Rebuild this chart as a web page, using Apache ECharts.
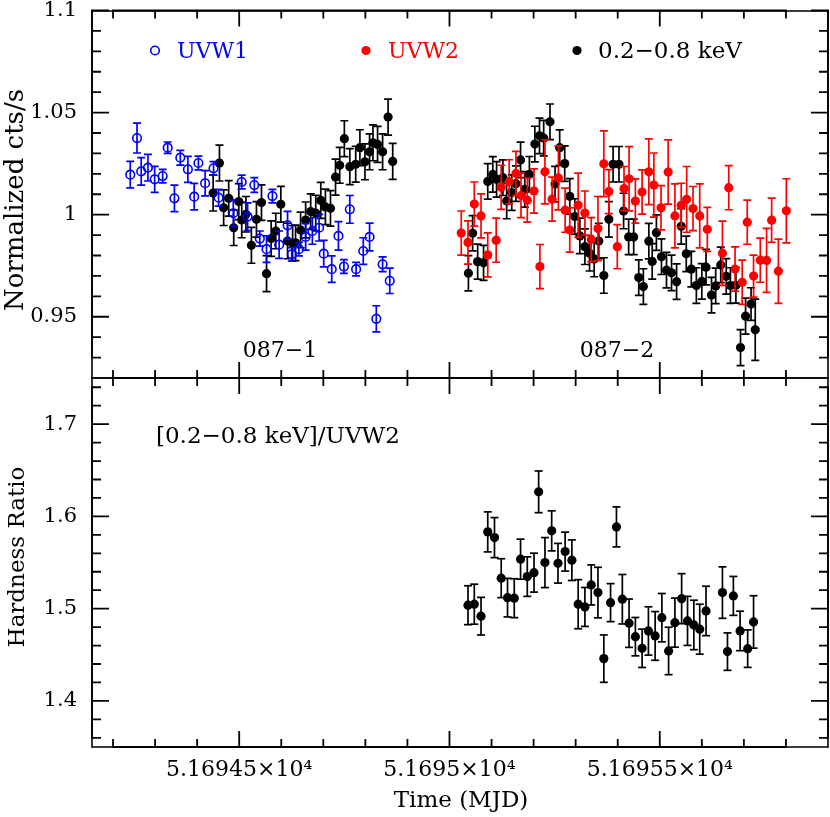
<!DOCTYPE html>
<html><head><meta charset="utf-8">
<script src="https://cdn.jsdelivr.net/npm/echarts@6/dist/echarts.min.js"></script>
<style>html,body{margin:0;padding:0;background:#fff}#c{width:830px;height:817px}</style>
</head><body><div id="c"></div>
<script>
// ---- axes / ticks ----
const XMIN = 51694.15, XMAX = 51695.9;
const X_MAJOR = [51694.5, 51695.0, 51695.5];
const X_MAJOR_LABELS = ['5.16945×10⁴', '5.1695×10⁴', '5.16955×10⁴'];
const X_MINOR = [51694.2,51694.3,51694.4,51694.6,51694.7,51694.8,51694.9,51695.1,51695.2,51695.3,51695.4,51695.6,51695.7,51695.8];
const TOP_YMIN = 0.92, TOP_YMAX = 1.1;
const TOP_Y_MAJOR = [0.95, 1.0, 1.05, 1.1];
const TOP_Y_LABELS = ['0.95', '1', '1.05', '1.1'];
const TOP_Y_MINOR = [0.93,0.94,0.96,0.97,0.98,0.99,1.01,1.02,1.03,1.04,1.06,1.07,1.08,1.09];
const BOT_YMIN = 1.35, BOT_YMAX = 1.75;
const BOT_Y_MAJOR = [1.4, 1.5, 1.6, 1.7];
const BOT_Y_LABELS = ['1.4', '1.5', '1.6', '1.7'];
const BOT_Y_MINOR = [1.36,1.38,1.42,1.44,1.46,1.48,1.52,1.54,1.56,1.58,1.62,1.64,1.66,1.68,1.72,1.74];

// ---- data ----
const UVW1_T = [51694.241,51694.257,51694.267,51694.283,51694.299,51694.318,51694.330,51694.346,51694.360,51694.378,51694.393,51694.403,51694.419,51694.439,51694.451,51694.486,51694.506,51694.520,51694.536,51694.549,51694.565,51694.579,51694.595,51694.615,51694.625,51694.642,51694.658,51694.674,51694.690,51694.701,51694.720,51694.736,51694.749,51694.763,51694.778,51694.795,51694.810,51694.826,51694.841,51694.858];
const UVW1_V = [1.0196,1.0375,1.0212,1.0230,1.0173,1.0189,1.0328,1.0080,1.0279,1.0222,1.0088,1.0253,1.0154,1.0227,1.0083,1.0007,1.0160,0.9990,1.0145,0.9883,0.9831,1.0091,0.9853,0.9948,0.9806,0.9831,0.9891,0.9920,0.9936,0.9809,0.9733,0.9896,0.9746,1.0026,0.9733,0.9822,0.9891,0.9490,0.9757,0.9676];
const UVW1_E = [0.0065,0.0073,0.0067,0.0065,0.0064,0.0033,0.0028,0.0065,0.0036,0.0064,0.0065,0.0034,0.0062,0.0033,0.0041,0.0065,0.0034,0.0068,0.0036,0.0037,0.0065,0.0033,0.0067,0.0068,0.0033,0.0033,0.0065,0.0065,0.0065,0.0065,0.0065,0.0070,0.0034,0.0068,0.0033,0.0065,0.0068,0.0064,0.0036,0.0062];

const XR1_T = [51694.438,51694.453,51694.463,51694.475,51694.487,51694.499,51694.506,51694.516,51694.529,51694.541,51694.553,51694.565,51694.576,51694.587,51694.599,51694.615,51694.627,51694.634,51694.646,51694.658,51694.670,51694.682,51694.694,51694.705,51694.717,51694.729,51694.739,51694.750,51694.763,51694.777,51694.787,51694.799,51694.810,51694.818,51694.829,51694.841,51694.854,51694.865];
const XR1_V = [1.0106,1.0253,1.0034,1.0080,0.9936,1.0064,0.9974,1.0002,0.9850,0.9977,1.0059,0.9711,0.9883,0.9920,1.0051,0.9871,0.9860,0.9862,0.9925,0.9974,1.0015,1.0008,1.0070,1.0038,1.0031,1.0184,1.0242,1.0372,1.0235,1.0247,1.0328,1.0259,1.0308,1.0352,1.0344,1.0308,1.0478,1.0261];
const XR1_E = [0.0088,0.0088,0.0087,0.0087,0.0087,0.0088,0.0087,0.0087,0.0088,0.0087,0.0087,0.0088,0.0087,0.0087,0.0088,0.0087,0.0087,0.0087,0.0087,0.0088,0.0087,0.0087,0.0088,0.0087,0.0087,0.0088,0.0088,0.0088,0.0088,0.0088,0.0088,0.0088,0.0088,0.0088,0.0088,0.0088,0.0088,0.0088];

const XR2_T = [51695.045,51695.055,51695.067,51695.081,51695.091,51695.103,51695.112,51695.127,51695.136,51695.148,51695.158,51695.169,51695.179,51695.190,51695.203,51695.214,51695.224,51695.239,51695.251,51695.262,51695.274,51695.286,51695.298,51695.310,51695.322,51695.333,51695.344,51695.355,51695.367,51695.379,51695.389,51695.403,51695.414,51695.426,51695.438,51695.450,51695.461,51695.474,51695.482,51695.492,51695.504,51695.516,51695.528,51695.540,51695.551,51695.563,51695.575,51695.587,51695.600,51695.610,51695.623,51695.633,51695.645,51695.658,51695.668,51695.681,51695.692,51695.704,51695.717,51695.727];
const XR2_V = [0.9713,0.9909,0.9770,0.9764,1.0163,1.0197,1.0173,1.0181,1.0067,1.0108,1.0152,1.0268,1.0124,1.0198,1.0346,1.0386,1.0375,1.0455,1.0150,1.0328,1.0250,1.0090,0.9991,0.9896,0.9843,0.9811,0.9783,0.9871,0.9702,0.9977,1.0247,1.0247,1.0018,0.9891,0.9891,0.9692,0.9648,0.9870,0.9771,0.9912,0.9794,0.9728,0.9715,0.9672,0.9943,0.9808,0.9733,0.9653,0.9673,0.9743,0.9606,0.9651,0.9754,0.9698,0.9653,0.9654,0.9349,0.9503,0.9562,0.9436];
const XR2_E = [0.0086,0.0086,0.0086,0.0086,0.0087,0.0087,0.0087,0.0087,0.0087,0.0087,0.0087,0.0087,0.0087,0.0087,0.0087,0.0087,0.0087,0.0087,0.0087,0.0087,0.0087,0.0087,0.0087,0.0087,0.0087,0.0087,0.0087,0.0087,0.0087,0.0087,0.0087,0.0087,0.0087,0.0087,0.0087,0.0087,0.0087,0.0087,0.0087,0.0087,0.0087,0.0087,0.0087,0.0087,0.0087,0.0087,0.0087,0.0087,0.0087,0.0087,0.0087,0.0087,0.0087,0.0087,0.0087,0.0087,0.0088,0.0088,0.0080,0.0150];

const UVW2_T = [51695.028,51695.044,51695.059,51695.075,51695.091,51695.111,51695.123,51695.142,51695.158,51695.170,51695.185,51695.201,51695.215,51695.227,51695.244,51695.259,51695.275,51695.286,51695.306,51695.322,51695.337,51695.353,51695.367,51695.379,51695.399,51695.415,51695.427,51695.442,51695.458,51695.474,51695.486,51695.503,51695.520,51695.536,51695.551,51695.564,51695.579,51695.595,51695.613,51695.649,51695.664,51695.679,51695.696,51695.708,51695.723,51695.739,51695.754,51695.766,51695.782,51695.801];
const UVW2_V = [0.9910,0.9864,1.0052,0.9994,0.9803,0.9875,1.0134,1.0161,1.0202,1.0094,1.0071,1.0116,0.9746,1.0210,1.0076,1.0180,1.0022,0.9925,1.0046,1.0008,0.9878,0.9932,1.0249,1.0113,0.9843,1.0128,1.0176,1.0067,1.0111,1.0210,1.0145,1.0034,1.0209,0.9994,1.0046,1.0075,1.0030,0.9994,0.9928,0.9811,1.0132,0.9734,0.9669,0.9963,0.9699,0.9777,0.9776,0.9973,0.9723,1.0019];
const UVW2_E = [0.0108,0.0106,0.0108,0.0108,0.0108,0.0108,0.0108,0.0108,0.0108,0.0108,0.0108,0.0108,0.0108,0.0157,0.0108,0.0157,0.0108,0.0108,0.0157,0.0108,0.0108,0.0157,0.0161,0.0108,0.0108,0.0108,0.0157,0.0108,0.0108,0.0161,0.0157,0.0108,0.0157,0.0157,0.0108,0.0161,0.0108,0.0157,0.0108,0.0157,0.0108,0.0108,0.0108,0.0108,0.0103,0.0108,0.0157,0.0108,0.0157,0.0157];

const HR_T = [51695.044,51695.059,51695.075,51695.091,51695.107,51695.123,51695.138,51695.154,51695.169,51695.185,51695.201,51695.212,51695.227,51695.243,51695.258,51695.275,51695.291,51695.306,51695.322,51695.337,51695.353,51695.367,51695.383,51695.397,51695.411,51695.427,51695.442,51695.458,51695.473,51695.489,51695.505,51695.521,51695.536,51695.552,51695.566,51695.581,51695.595,51695.610,51695.649,51695.661,51695.675,51695.691,51695.709,51695.723];
const HR_V = [1.5037,1.5048,1.4918,1.5832,1.5770,1.5330,1.5119,1.5113,1.5536,1.5347,1.5390,1.6266,1.5499,1.5843,1.5492,1.5618,1.5525,1.5048,1.5018,1.5257,1.5174,1.4458,1.5065,1.5886,1.5102,1.4842,1.4696,1.4570,1.4758,1.4704,1.4902,1.4541,1.4848,1.5108,1.4867,1.4823,1.4777,1.4975,1.5174,1.4534,1.5138,1.4758,1.4566,1.4856];
const HR_E = [0.0211,0.0217,0.0204,0.0217,0.0217,0.0211,0.0209,0.0211,0.0217,0.0214,0.0211,0.0226,0.0271,0.0217,0.0215,0.0211,0.0220,0.0266,0.0211,0.0217,0.0274,0.0257,0.0206,0.0217,0.0268,0.0262,0.0208,0.0208,0.0262,0.0264,0.0262,0.0257,0.0266,0.0271,0.0266,0.0268,0.0271,0.0268,0.0279,0.0203,0.0211,0.0214,0.0203,0.0284];

// ---- chart ----
const FONT = '"DejaVu Serif", "Liberation Serif", serif';
const GRIDS = [{left: 92, top: 9, width: 736, height: 369}, {left: 92, top: 378, width: 736, height: 369}];

function indexIn(vals, v) {
  for (let i = 0; i < vals.length; i++) if (Math.abs(vals[i] - v) < 1e-6) return i;
  return -1;
}
function lookup(vals, labels) {
  return function (v) { const i = indexIn(vals, v); return i >= 0 ? labels[i] : ''; };
}
function xAx(grid, pos, withLabels) {
  return {
    type: 'value', gridIndex: grid, position: pos, min: XMIN, max: XMAX,
    axisLine: {show: true, onZero: false, lineStyle: {color: '#000', width: 1.6}},
    axisTick: {show: false},
    axisLabel: withLabels ? {show: true, customValues: X_MAJOR, formatter: lookup(X_MAJOR, X_MAJOR_LABELS),
      color: '#000', fontFamily: FONT, fontSize: 22, margin: 12, showMinLabel: true, showMaxLabel: true} : {show: false},
    splitLine: {show: false}
  };
}
function yAx(grid, pos, min, max, labelVals, labelTexts) {
  return {
    type: 'value', gridIndex: grid, position: pos, min: min, max: max,
    axisLine: {show: true, onZero: false, lineStyle: {color: '#000', width: 1.6}},
    axisTick: {show: false},
    axisLabel: labelVals ? {show: true, customValues: labelVals, formatter: lookup(labelVals, labelTexts),
      color: '#000', fontFamily: FONT, fontSize: 21, margin: 15, showMinLabel: true, showMaxLabel: true} : {show: false},
    splitLine: {show: false}
  };
}

const xAxes = [xAx(0, 'bottom'), xAx(0, 'top'), xAx(1, 'bottom', true), xAx(1, 'top')];
const yAxes = [
  yAx(0, 'left', TOP_YMIN, TOP_YMAX, TOP_Y_MAJOR, TOP_Y_LABELS),
  yAx(0, 'right', TOP_YMIN, TOP_YMAX),
  yAx(1, 'left', BOT_YMIN, BOT_YMAX, BOT_Y_MAJOR, BOT_Y_LABELS),
  yAx(1, 'right', BOT_YMIN, BOT_YMAX)
];

function seg(x1, y1, x2, y2, color, w) {
  return {type: 'line', shape: {x1: x1, y1: y1, x2: x2, y2: y2},
    style: {stroke: color, lineWidth: w, fill: null}};
}

function errSeries(name, axIdx, ts, vs, es, color, hollow, z) {
  const data = ts.map((t, i) => [t, vs[i], vs[i] - es[i], vs[i] + es[i]]);
  return {
    type: 'custom', name: name, xAxisIndex: axIdx, yAxisIndex: axIdx, z: z, clip: true,
    encode: {x: 0, y: [1, 2, 3]}, data: data, silent: true,
    renderItem: function (params, api) {
      const p = api.coord([api.value(0), api.value(1)]);
      const lo = api.coord([api.value(0), api.value(2)]);
      const hi = api.coord([api.value(0), api.value(3)]);
      const cw = 4, lw = 1.7;
      return {
        type: 'group',
        children: [
          seg(p[0], lo[1], p[0], hi[1], color, lw),
          seg(p[0] - cw, lo[1], p[0] + cw, lo[1], color, lw),
          seg(p[0] - cw, hi[1], p[0] + cw, hi[1], color, lw),
          hollow
            ? {type: 'circle', shape: {cx: p[0], cy: p[1], r: 4.3}, style: {stroke: color, lineWidth: 1.6, fill: null}}
            : {type: 'circle', shape: {cx: p[0], cy: p[1], r: 4.6}, style: {fill: color, stroke: null}}
        ]
      };
    }
  };
}

function txt(text, x, y, size, color, align, rot) {
  return {type: 'text', x: x, y: y, rotation: rot || 0, silent: true,
    style: {text: text, font: size + 'px ' + FONT, fill: color, align: align || 'left', verticalAlign: 'middle'}};
}

const TEXT_GRAPHICS = [
  {type: 'circle', shape: {cx: 155, cy: 50.5, r: 4.3}, style: {stroke: '#0000ff', lineWidth: 1.6, fill: null}, silent: true},
  txt('UVW1', 177, 52, 22, '#0000ff'),
  {type: 'circle', shape: {cx: 366, cy: 50.5, r: 4.6}, style: {fill: '#ff0000'}, silent: true},
  txt('UVW2', 388, 52, 22, '#ff0000'),
  {type: 'circle', shape: {cx: 577, cy: 50.5, r: 4.6}, style: {fill: '#000'}, silent: true},
  txt('0.2−0.8 keV', 598, 52, 23, '#000'),
  txt('087−1', 280, 351, 22, '#000', 'center'),
  txt('087−2', 617, 351, 22, '#000', 'center'),
  txt('[0.2−0.8 keV]/UVW2', 156, 437, 23, '#000'),
  txt('Normalized cts/s', 16, 200, 26, '#000', 'center', Math.PI / 2),
  txt('Hardness Ratio', 18, 557, 23, '#000', 'center', Math.PI / 2),
  txt('Time (MJD)', 461, 801, 23, '#000', 'center')
];

const chart = echarts.init(document.getElementById('c'), null, {renderer: 'canvas'});
chart.setOption({
  animation: false,
  backgroundColor: '#fff',
  grid: GRIDS,
  xAxis: xAxes,
  yAxis: yAxes,
  series: [
    errSeries('0.2-0.8 keV (087-1)', 0, XR1_T, XR1_V, XR1_E, '#000', false, 2),
    errSeries('UVW1', 0, UVW1_T, UVW1_V, UVW1_E, '#0000ff', true, 3),
    errSeries('0.2-0.8 keV (087-2)', 0, XR2_T, XR2_V, XR2_E, '#000', false, 2),
    errSeries('UVW2', 0, UVW2_T, UVW2_V, UVW2_E, '#ff0000', false, 3),
    errSeries('Hardness Ratio', 2, HR_T, HR_V, HR_E, '#000', false, 2)
  ],
  graphic: TEXT_GRAPHICS
});

// ---- tick marks on all four sides: one polyline per side, positions from the axes' scales ----
function sidePolylines(axIdx, ymin, ymax, yMajor, yMinor) {
  const finder = {xAxisIndex: axIdx, yAxisIndex: axIdx};
  const px = (x, y) => chart.convertToPixel(finder, [x, y]);
  const bottom = [], top = [], left = [], right = [];
  X_MAJOR.concat(X_MINOR).sort((a, b) => a - b).forEach(v => {
    const L = indexIn(X_MAJOR, v) >= 0 ? 16 : 8;
    const b = px(v, ymin), t = px(v, ymax);
    bottom.push([b[0], b[1]], [b[0], b[1] - L], [b[0], b[1]]);
    top.push([t[0], t[1]], [t[0], t[1] + L], [t[0], t[1]]);
  });
  yMajor.concat(yMinor).sort((a, b) => a - b).forEach(v => {
    const L = indexIn(yMajor, v) >= 0 ? 17 : 9;
    const l = px(XMIN, v), r = px(XMAX, v);
    left.push([l[0], l[1]], [l[0] + L, l[1]], [l[0], l[1]]);
    right.push([r[0], r[1]], [r[0] - L, r[1]], [r[0], r[1]]);
  });
  return [bottom, top, left, right].map(pts => ({
    type: 'polyline', silent: true, zlevel: 1, z: 100,
    shape: {points: pts},
    style: {stroke: '#000', lineWidth: 1.8, fill: null}
  }));
}
const tickGraphics = sidePolylines(0, TOP_YMIN, TOP_YMAX, TOP_Y_MAJOR, TOP_Y_MINOR)
  .concat(sidePolylines(2, BOT_YMIN, BOT_YMAX, BOT_Y_MAJOR, BOT_Y_MINOR));
chart.setOption({graphic: TEXT_GRAPHICS.concat(tickGraphics)});
</script>
</body></html>
